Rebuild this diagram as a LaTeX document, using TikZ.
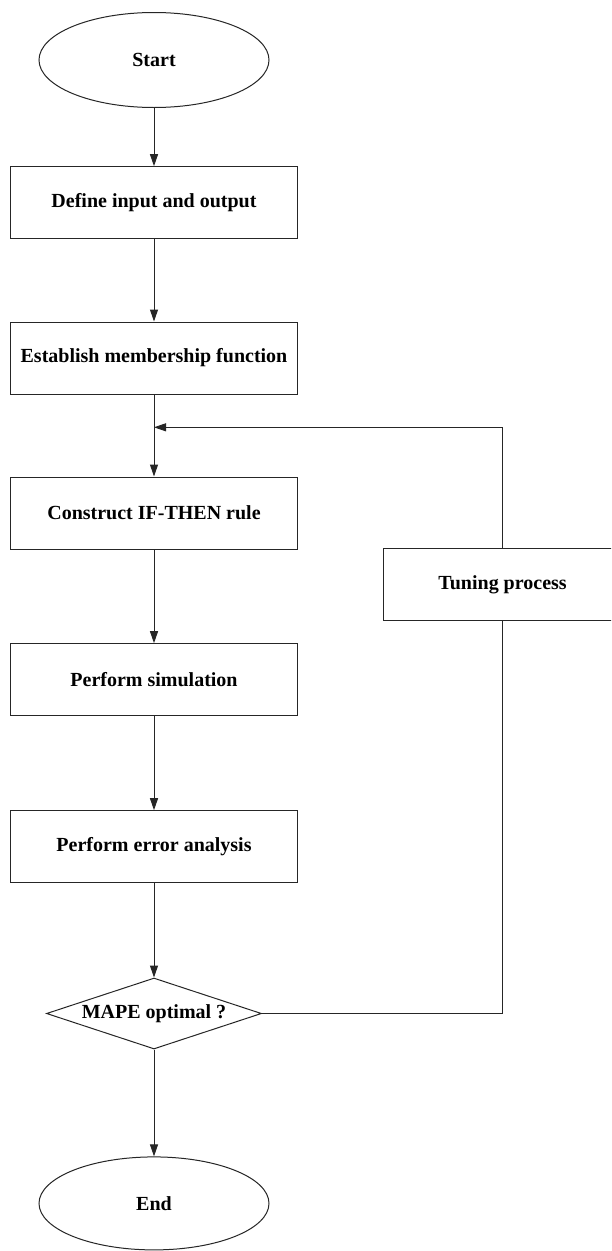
\documentclass[tikz,border=0pt]{standalone}
\usepackage{fontspec}
\setmainfont{Liberation Serif}
\usetikzlibrary{shapes.geometric,arrows.meta}
\tikzset{
  lbl/.style={font=\fontsize{20}{24}\selectfont\bfseries, text=black},
  procbox/.style={lbl, draw=black!85, line width=1pt, rectangle, inner sep=0pt, minimum width=287pt, minimum height=72pt},
  termnode/.style={lbl, draw=black!85, line width=1pt, ellipse, inner sep=0pt, minimum width=230pt, minimum height=95pt},
  decnode/.style={lbl, draw=black!85, line width=1pt, diamond, shape aspect=3, inner sep=0pt, minimum width=215pt, minimum height=71pt},
  flow/.style={draw=black!85, line width=1pt, -{Triangle[length=12pt,width=8pt]}},
  plainline/.style={draw=black!85, line width=1pt}
}
\begin{document}
\begin{tikzpicture}[x=1pt,y=-1pt]
\useasboundingbox (0,0) rectangle (611,1251);
\fill[white] (0,0) rectangle (611,1251);
\begin{scope}
\clip (0,0) rectangle (611,1251);
\node[termnode] (start) at (154,60) {Start};
\node[procbox] (define) at (154,202.7) {Define input and output};
\node[procbox] (establish) at (154,358) {Establish membership function};
\node[procbox] (construct) at (154,513) {Construct IF-THEN rule};
\node[procbox] (sim) at (154,679.7) {Perform simulation};
\node[procbox] (err) at (154,846.7) {Perform error analysis};
\node[decnode] (dec) at (154,1013.5) {MAPE optimal ?};
\node[termnode, minimum height=93pt] (end) at (154,1203.4) {End};
\node[procbox, minimum width=238.4pt, minimum height=71.7pt] (tune) at (502.5,584.3) {Tuning process};
\coordinate (j) at (154,427.3);

\draw[flow] (start) -- (define);
\draw[flow] (define) -- (establish);
\draw[flow] (establish) -- (construct);
\draw[flow] (construct) -- (sim);
\draw[flow] (sim) -- (err);
\draw[flow] (err) -- (dec);
\draw[flow] (dec) -- (end);
\draw[plainline] (dec.east) -| (tune.south);
\draw[flow] (tune.north) |- (j);
\end{scope}
\end{tikzpicture}
\end{document}
